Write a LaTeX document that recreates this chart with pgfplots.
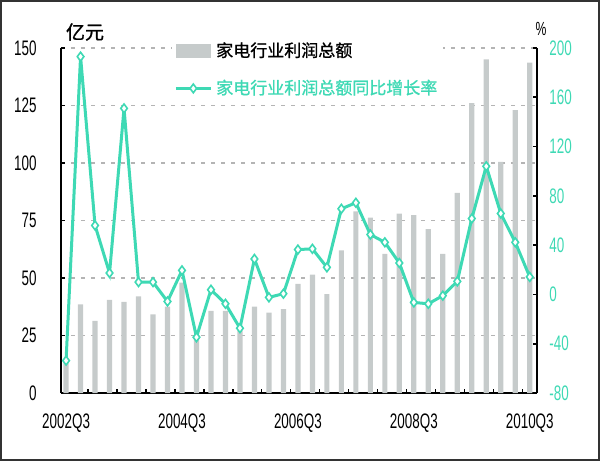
\documentclass[border=0pt]{standalone}
\usepackage{fontspec}
\usepackage{pgfplots}
\usepackage{pgfplotstable}
\pgfplotsset{compat=1.18}
\setmainfont{Liberation Sans}
\newfontfamily\narrow[FakeStretch=0.64]{Liberation Sans}
\newfontfamily\cjk[FakeBold=1]{Noto Sans CJK SC}
\definecolor{barg}{HTML}{C6CBCB}
\definecolor{lineg}{HTML}{3ED9B4}
\definecolor{gridg}{HTML}{B4B4B4}

% quarter index (0 = 2002Q3), profit (100m yuan), yoy growth (%)
\pgfplotstableread{
q profit growth
0 13 -53.7
1 38.5 193
2 31.4 56
3 40.5 17.4
4 39.6 151
5 42 10
6 34.2 10
7 37.6 -5.7
8 48 19.5
9 24 -34.7
10 35.7 3.8
11 35.7 -7.6
12 27 -27.4
13 37.6 28.8
14 35 -2.4
15 36.5 0.6
16 47.4 36.4
17 51.5 37
18 43 22
19 62 69.5
20 79 74.4
21 76.3 48.6
22 60.5 42.3
23 78 25.5
24 77.3 -6.5
25 71.2 -7.6
26 60.5 -1
27 87 10.6
28 126 61.6
29 145 104
30 100.5 65.7
31 123 42.3
32 143.6 14.2
}\data

\tikzset{growthline/.style={lineg, line width=1.5pt, mark=diamond*, mark size=2.2pt,
    mark options={fill=white, draw=lineg, line width=0.8pt}}}

\pgfplotsset{
  common/.style={
    scale only axis, width=238pt, height=172.5pt,
    xmin=-0.35, xmax=32.5,
    axis line style={-, line width=1pt, black},
    tick style={black, line width=0.8pt},
    major tick length=2pt, tick align=inside,
    /pgf/number format/assume math mode=true,
    ticklabel style={font=\narrow\fontsize{10.5}{12}\selectfont},
  },
}

\begin{document}
\begin{tikzpicture}
\useasboundingbox (-30.5pt,-34pt) rectangle (269.5pt,196.5pt);
\draw[line width=1.2pt, black!80] (-29.9pt,-33.4pt) rectangle (268.9pt,195.9pt);

\begin{axis}[common,
  ymin=0, ymax=150,
  axis x line*=bottom, axis y line*=left,
  ytick={0,25,...,150},
  ymajorgrids, grid style={gridg, line width=0.6pt, dash pattern=on 2pt off 3pt},
  yticklabel style={anchor=east, inner sep=0pt, xshift=-12pt},
  xtick={1.5,3.5,...,31.5}, xticklabels={},
  extra x ticks={0,8,16,24,32},
  extra x tick labels={2002Q3,2004Q3,2006Q3,2008Q3,2010Q3},
  extra x tick style={major tick length=0pt, grid=none,
    xticklabel style={anchor=north, inner sep=0pt, yshift=-10pt}},
  legend style={at={(rel axis cs:0.233,1.035)}, anchor=north west,
    draw=none, fill=white, inner sep=1pt, row sep=6pt,
    font=\cjk\fontsize{8.5}{10}\selectfont},
  legend cell align=left,
]
\addplot[ybar, bar width=2.6pt, fill=barg, draw=none,
  legend image code/.code={\fill[barg] (0pt,-3.5pt) rectangle (17.5pt,3.5pt);}]
  table[x=q, y=profit] {\data};
\addlegendentry{家电行业利润总额}
\addlegendimage{growthline,
  legend image code/.code={\draw[growthline, mark repeat=2, mark phase=2]
    plot coordinates {(0pt,0pt) (8.75pt,0pt) (17.5pt,0pt)};}}
\addlegendentry{\textcolor{lineg}{家电行业利润总额同比增长率}}
\end{axis}

\begin{axis}[common,
  ymin=-80, ymax=200,
  axis x line=none, axis y line*=right,
  ytick={-80,-40,...,200},
  yticklabel style={anchor=west, inner sep=0pt, xshift=6pt, text=lineg},
]
\addplot[growthline] table[x=q, y=growth] {\data};
\end{axis}

\node[font=\cjk\fontsize{9.5}{11}\selectfont] at (12pt,180.5pt) {亿元};
\node[font=\narrow\fontsize{9.5}{11}\selectfont] at (240pt,182pt) {\%};
\end{tikzpicture}
\end{document}
